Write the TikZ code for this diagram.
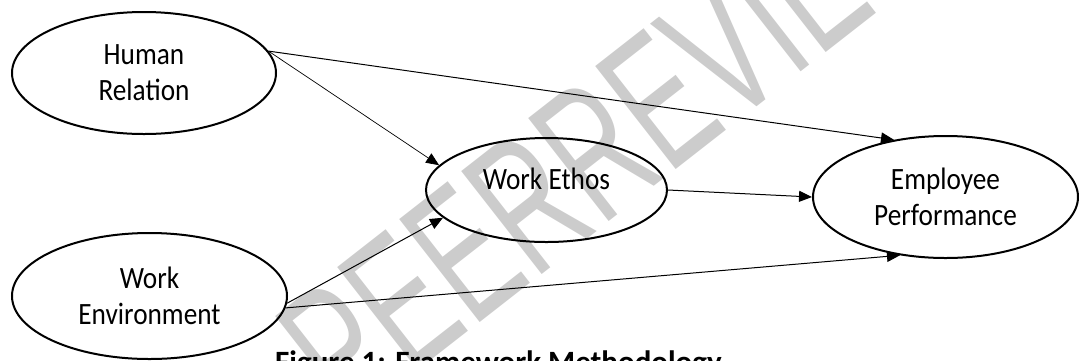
\documentclass[tikz,border=0pt]{standalone}
\usepackage{fontspec}
\setmainfont{Carlito}[FakeStretch=0.88]
\newfontfamily\capfont{Carlito}
\newfontfamily\wmfont{Liberation Sans}[FakeStretch=0.62]
\usetikzlibrary{shapes.geometric,arrows.meta}
\begin{document}
\begin{tikzpicture}[x=1pt,y=-1pt,
  oval/.style={draw,ellipse,line width=2pt,inner sep=0pt,align=center,font=\fontsize{31}{36}\selectfont},
  lbl/.style={inner sep=0pt,align=center,font=\fontsize{31}{36}\selectfont},
  link/.style={line width=1pt,-{Triangle[length=13pt,width=11pt]}},
  wmark/.style={rotate=38,text=black!20,inner sep=0pt,font=\wmfont\fontsize{190}{190}\selectfont}]
\useasboundingbox (0,0) rectangle (1079,360);
\clip (0,0) rectangle (1079,360);
\node[wmark] (wm) at (618,132) {PEERREVIEW};
\node[oval,minimum width=264pt,minimum height=122pt] (hr) at (144,73) {Human\\Relation};
\node[oval,minimum width=275pt,minimum height=126pt] (wenv) at (149.5,296) {Work\\Environment};
\node[oval,minimum width=241pt,minimum height=104pt] (we) at (546.5,190) {};
\node[lbl] (wet) at (546.5,179) {Work Ethos};
\node[oval,minimum width=265pt,minimum height=122pt] (ep) at (945.5,197) {Employee\\Performance};
\draw[link] (hr.10) -- (ep.132);
\draw[link,line width=0.7pt] (hr.10) -- (we.167);
\draw[link] (wenv.-3) -- (we.195);
\draw[link] (wenv.-5.5) -- (ep.232);
\draw[link] (we.0) -- (ep.180);
\node[anchor=base west,inner sep=0pt,font=\capfont\bfseries\fontsize{31}{36}\selectfont] (cap) at (275,372) {Figure 1: Framework Methodology};
\end{tikzpicture}
\end{document}
